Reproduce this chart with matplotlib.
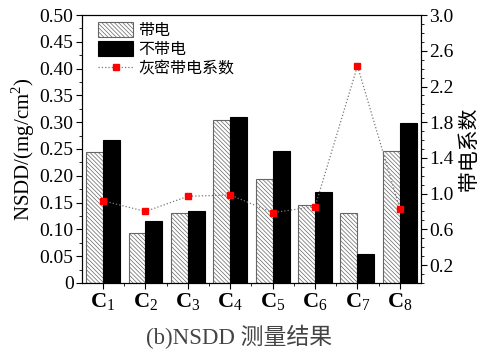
import matplotlib
matplotlib.use("Agg")
import matplotlib.pyplot as plt
import numpy as np
from matplotlib.ticker import MultipleLocator, FixedLocator

plt.rcParams['font.family'] = ['Liberation Serif', 'Noto Sans CJK SC']
plt.rcParams['mathtext.fontset'] = 'custom'
plt.rcParams['mathtext.rm'] = 'Liberation Serif'
plt.rcParams['mathtext.bf'] = 'Liberation Serif:bold'
plt.rcParams['hatch.linewidth'] = 0.5

categories = [r'$\mathbf{C}_1$', r'$\mathbf{C}_2$', r'$\mathbf{C}_3$', r'$\mathbf{C}_4$',
              r'$\mathbf{C}_5$', r'$\mathbf{C}_6$', r'$\mathbf{C}_7$', r'$\mathbf{C}_8$']
charged = [0.245, 0.093, 0.131, 0.304, 0.194, 0.145, 0.130, 0.247]
uncharged = [0.266, 0.116, 0.135, 0.309, 0.247, 0.170, 0.054, 0.298]
coef = [0.92, 0.80, 0.97, 0.985, 0.787, 0.854, 2.43, 0.828]

fig = plt.figure(figsize=(4.79, 3.51), dpi=100)
ax = fig.add_axes([0.171, 0.194, 0.708, 0.763])
x = np.arange(len(categories))
w = 0.4
b1 = ax.bar(x - w/2, charged, w, facecolor='white', edgecolor='#666666', hatch='\\' * 8, linewidth=0.8, label='带电')
b2 = ax.bar(x + w/2, uncharged, w, facecolor='black', edgecolor='black', linewidth=0.8, label='不带电')
ax.set_xlim(-0.5, 7.5)
ax.set_ylim(0, 0.5)
ax.set_xticks(x)
ax.set_xticklabels(categories, fontsize=16)
ax.xaxis.set_minor_locator(FixedLocator(x[:-1] + 0.5))
ax.yaxis.set_minor_locator(MultipleLocator(0.025))
ax.set_yticks([0, 0.05, 0.1, 0.15, 0.2, 0.25, 0.3, 0.35, 0.4, 0.45, 0.5])
ax.set_yticklabels(['0', '0.05', '0.10', '0.15', '0.20', '0.25', '0.30', '0.35', '0.40', '0.45', '0.50'], fontsize=14)
ax.tick_params(axis='both', which='major', direction='out', length=4, width=0.8, pad=2)
ax.tick_params(axis='both', which='minor', direction='out', length=2.5, width=0.6)
ax.set_ylabel('NSDD/(mg/cm$^2$)', fontsize=15, labelpad=2)

ax2 = ax.twinx()
l, = ax2.plot(x, coef, linestyle=':', color='#777777', linewidth=0.9, marker='s', markersize=5,
              markerfacecolor='red', markeredgecolor='red', label='灰密带电系数')
ax2.set_ylim(0, 3.0)
ax2.set_yticks([0.2, 0.6, 1.0, 1.4, 1.8, 2.2, 2.6, 3.0])
ax2.set_yticklabels(['0.2', '0.6', '1.0', '1.4', '1.8', '2.2', '2.6', '3.0'], fontsize=14)
ax2.yaxis.set_minor_locator(MultipleLocator(0.1))
ax2.tick_params(axis='y', which='major', direction='out', length=4, width=0.8, pad=2)
ax2.tick_params(axis='y', which='minor', direction='out', length=2.5, width=0.6)
ax2.set_ylabel('带电系数', fontsize=15, family=['Noto Sans CJK SC'], labelpad=3)

leg = ax.legend(handles=[b1, b2, l], loc='upper left', bbox_to_anchor=(0.02, 1.01), frameon=False,
                prop={'family': ['Noto Sans CJK SC'], 'size': 11.5}, handlelength=2.2, handleheight=1.1,
                handletextpad=0.3, labelspacing=0.12, borderaxespad=0.2)

fig.text(0.5, 0.04, '(b)NSDD 测量结果', ha='center', va='center', fontsize=16.5, color='#444444',
         family=['Liberation Serif', 'Noto Sans CJK SC'])

fig.savefig('out.png', dpi=100)
